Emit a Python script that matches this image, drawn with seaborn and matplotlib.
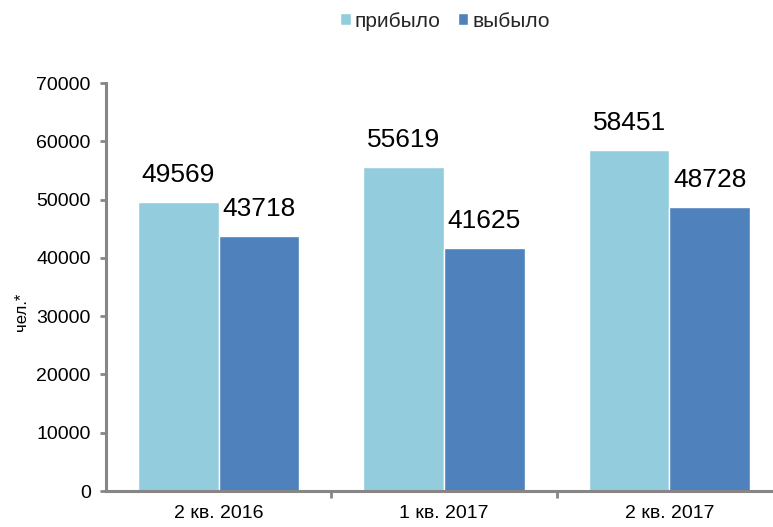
import matplotlib
matplotlib.use("Agg")
import matplotlib.pyplot as plt
import numpy as np
import pandas as pd
import seaborn as sns

sns.set_theme(style="white")
plt.rcParams['font.family'] = ['Liberation Sans', 'DejaVu Sans']

# data
quarters = ['2 кв. 2016', '1 кв. 2017', '2 кв. 2017']
arrived = [49569, 55619, 58451]
departed = [43718, 41625, 48728]
series_names = ['прибыло', 'выбыло']
colors = ['#93CDDD', '#4F81BD']

df = pd.DataFrame({
    'quarter': quarters * 2,
    'value': arrived + departed,
    'series': [series_names[0]] * 3 + [series_names[1]] * 3,
})

fig = plt.figure(figsize=(7.73, 5.27), dpi=100)
ax = fig.add_axes([106 / 773, 36 / 527, 676 / 773, 408 / 527])

sns.barplot(data=df, x='quarter', y='value', hue='series', palette=colors,
            width=0.715, saturation=1, ax=ax, legend=True)

for cont in ax.containers:
    ax.bar_label(cont, fmt='%d', padding=11, fontsize=19, color='black')

axis_grey = '#868686'
ax.set_xlim(-0.5, 2.5)
ax.set_ylim(0, 70000)
ax.set_yticks(np.arange(0, 70001, 10000))
ax.set_xlabel('')
ax.set_ylabel('чел.*', fontsize=12, rotation=90, color='black')
ax.yaxis.set_label_coords(-0.114, 0.44)

for side in ['top', 'right']:
    ax.spines[side].set_visible(False)
for side in ['left', 'bottom']:
    ax.spines[side].set_color(axis_grey)
    ax.spines[side].set_linewidth(2.2)

ax.tick_params(axis='y', which='major', left=True, length=4, width=2,
               color=axis_grey, labelsize=14, labelcolor='black', pad=7)
ax.tick_params(axis='x', which='major', bottom=False, labelsize=14,
               labelcolor='black', pad=4)
ax.set_xticks([0.5, 1.5], minor=True)
ax.tick_params(axis='x', which='minor', bottom=True, length=5, width=2,
               color=axis_grey)

ax.get_legend().remove()
handles, labels = ax.get_legend_handles_labels()
fig.legend(handles, labels, loc='center', bbox_to_anchor=(445 / 773, 1 - 21 / 527),
           ncol=2, frameon=False, fontsize=15, handlelength=0.5,
           handleheight=0.5, handletextpad=0.2, columnspacing=0.8)

fig.savefig('out.png', dpi=100)
